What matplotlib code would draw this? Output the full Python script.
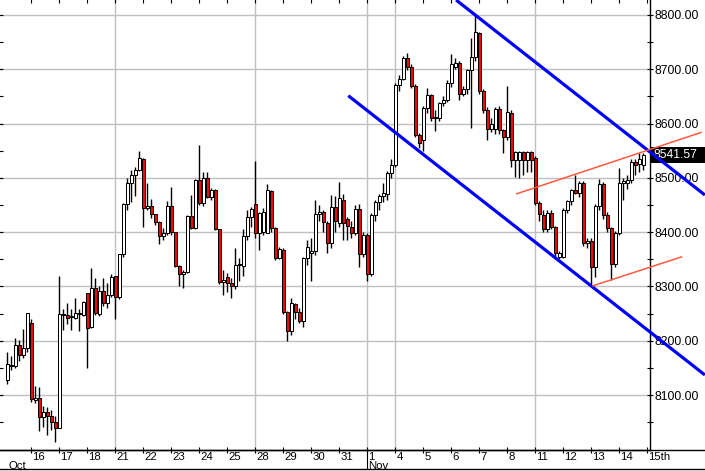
import numpy as np
import matplotlib
matplotlib.use('Agg')
import matplotlib.pyplot as plt
import matplotlib.transforms as mtransforms
from matplotlib.patches import Rectangle
from matplotlib.lines import Line2D

plt.rcParams['font.family'] = ['Liberation Sans', 'DejaVu Sans']

# hourly bars, 7 per trading day
opens = [8127, 8156, 8153, 8192, 8173, 8187, 8233, 8090, 8094, 8059,
         8069, 8062, 8050, 8039, 8250, 8248, 8244, 8242, 8249, 8248,
         8288, 8226, 8298, 8250, 8292, 8270, 8284, 8320, 8281, 8359,
         8451, 8490, 8506, 8515, 8535, 8445, 8448, 8433, 8419, 8393,
         8398, 8448, 8400, 8338, 8323, 8327, 8430, 8408, 8496, 8454,
         8500, 8465, 8478, 8406, 8309, 8317, 8307, 8300, 8339, 8337,
         8392, 8428, 8451, 8398, 8400, 8398, 8475, 8407, 8352, 8367,
         8252, 8217, 8268, 8253, 8236, 8353, 8361, 8365, 8434, 8437,
         8417, 8380, 8446, 8416, 8460, 8424, 8410, 8398, 8442, 8359,
         8395, 8322, 8432, 8456, 8467, 8470, 8509, 8523, 8671, 8683,
         8720, 8705, 8669, 8579, 8570, 8628, 8652, 8610, 8610, 8637,
         8644, 8674, 8705, 8712, 8655, 8663, 8698, 8722, 8766, 8660,
         8625, 8590, 8590, 8626, 8588, 8575, 8619, 8533, 8532, 8547,
         8533, 8547, 8536, 8454, 8432, 8406, 8435, 8409, 8355, 8355,
         8441, 8457, 8478, 8473, 8491, 8380, 8384, 8336, 8449, 8488,
         8432, 8407, 8341, 8398, 8491, 8490, 8496, 8530, 8525, 8523]
highs = [8180, 8171, 8205, 8201, 8222, 8251, 8240, 8116, 8115, 8079,
         8078, 8073, 8061, 8320, 8259, 8270, 8258, 8278, 8258, 8274,
         8288, 8334, 8315, 8300, 8316, 8307, 8322, 8320, 8359, 8453,
         8500, 8515, 8520, 8549, 8537, 8490, 8461, 8434, 8420, 8407,
         8457, 8483, 8400, 8340, 8330, 8432, 8469, 8498, 8560, 8511,
         8511, 8482, 8480, 8406, 8330, 8325, 8316, 8370, 8352, 8405,
         8440, 8446, 8531, 8437, 8445, 8488, 8478, 8410, 8372, 8370,
         8255, 8278, 8270, 8260, 8355, 8386, 8390, 8460, 8450, 8440,
         8420, 8468, 8466, 8492, 8470, 8428, 8420, 8450, 8452, 8400,
         8398, 8435, 8460, 8470, 8490, 8512, 8535, 8675, 8690, 8725,
         8730, 8710, 8672, 8582, 8632, 8665, 8655, 8625, 8640, 8650,
         8680, 8728, 8720, 8716, 8670, 8700, 8757, 8800, 8768, 8663,
         8630, 8610, 8630, 8632, 8590, 8669, 8625, 8550, 8550, 8550,
         8550, 8550, 8540, 8458, 8440, 8440, 8440, 8412, 8365, 8445,
         8460, 8480, 8506, 8495, 8495, 8390, 8390, 8452, 8497, 8492,
         8438, 8410, 8402, 8518, 8500, 8505, 8535, 8535, 8545, 8545]
lows = [8120, 8146, 8150, 8162, 8168, 8180, 8088, 8085, 8033, 8041,
        8026, 8036, 8014, 8039, 8219, 8230, 8220, 8240, 8217, 8245,
        8150, 8224, 8248, 8245, 8264, 8260, 8280, 8240, 8276, 8355,
        8440, 8455, 8466, 8512, 8410, 8440, 8426, 8413, 8378, 8386,
        8395, 8395, 8335, 8300, 8298, 8325, 8405, 8405, 8450, 8448,
        8462, 8460, 8404, 8305, 8284, 8290, 8278, 8295, 8310, 8320,
        8385, 8410, 8390, 8367, 8395, 8398, 8400, 8348, 8350, 8250,
        8200, 8210, 8240, 8232, 8225, 8340, 8310, 8357, 8420, 8400,
        8362, 8370, 8400, 8410, 8385, 8385, 8390, 8395, 8336, 8355,
        8310, 8320, 8420, 8440, 8455, 8460, 8500, 8520, 8660, 8680,
        8698, 8665, 8575, 8555, 8550, 8620, 8605, 8587, 8605, 8632,
        8640, 8668, 8700, 8644, 8650, 8655, 8591, 8715, 8655, 8620,
        8570, 8585, 8580, 8580, 8545, 8570, 8520, 8502, 8500, 8505,
        8510, 8510, 8450, 8420, 8400, 8400, 8405, 8355, 8350, 8352,
        8435, 8450, 8470, 8465, 8375, 8370, 8302, 8318, 8440, 8425,
        8400, 8312, 8335, 8395, 8460, 8480, 8490, 8505, 8510, 8515]
closes = [8157, 8153, 8192, 8173, 8187, 8251, 8093, 8094, 8059, 8069,
          8062, 8050, 8039, 8250, 8248, 8242, 8246, 8251, 8251, 8272,
          8224, 8298, 8251, 8292, 8269, 8284, 8318, 8281, 8359, 8451,
          8490, 8506, 8515, 8537, 8445, 8448, 8433, 8419, 8393, 8398,
          8448, 8400, 8338, 8323, 8327, 8430, 8408, 8496, 8454, 8500,
          8465, 8478, 8406, 8309, 8312, 8307, 8300, 8339, 8342, 8392,
          8428, 8443, 8398, 8435, 8437, 8477, 8407, 8352, 8369, 8252,
          8217, 8270, 8253, 8236, 8353, 8372, 8365, 8434, 8437, 8418,
          8380, 8447, 8421, 8462, 8416, 8411, 8398, 8442, 8359, 8395,
          8322, 8432, 8456, 8467, 8472, 8509, 8523, 8671, 8683, 8720,
          8705, 8669, 8579, 8564, 8628, 8652, 8610, 8612, 8637, 8644,
          8674, 8710, 8712, 8655, 8663, 8698, 8722, 8768, 8660, 8625,
          8590, 8600, 8626, 8588, 8575, 8621, 8533, 8547, 8547, 8533,
          8547, 8533, 8453, 8434, 8406, 8435, 8409, 8361, 8361, 8441,
          8457, 8478, 8473, 8491, 8380, 8384, 8336, 8449, 8488, 8432,
          8407, 8341, 8398, 8491, 8494, 8496, 8530, 8523, 8535, 8541.57]

day_labels = ['16', '17', '18', '21', '22', '23', '24', '25', '28', '29', '30',
              '31', '1', '4', '5', '6', '7', '8', '11', '12', '13', '14', '15th']
month_labels = ['Oct', 'Nov']
month_first_bar = [0, 90]
week_grid_bars = [27, 62, 90, 97, 132]
last_price = 8541.57

# trend lines as (bar, price) end points
channel_top = [(112.2, 8827.6), (174.4, 8468.4)]
channel_bottom = [(85.25, 8651.3), (174.4, 8136.9)]
inner_top = [(127.2, 8470.3), (173.6, 8584.0)]
inner_bottom = [(146.25, 8300.8), (168.75, 8354.8)]

W, H = 705, 471
fig = plt.figure(figsize=(W / 100, H / 100), dpi=100)
ax = fig.add_axes([0, 21 / H, 650 / W, 450 / H])

o = np.array(opens, dtype=float)
h = np.array(highs, dtype=float)
l = np.array(lows, dtype=float)
c = np.array(closes, dtype=float)
x = np.arange(len(c))

# wicks then bodies
ax.vlines(x, l, h, color='black', lw=1.0, zorder=2)
body_bottom = np.minimum(o, c)
body_height = np.maximum(np.abs(c - o), 1.5)
colors = ['#ff0000' if cc < oo else 'white' for oo, cc in zip(o, c)]
ax.bar(x, body_height, bottom=body_bottom, width=0.78, color=colors,
       edgecolor='black', linewidth=0.72, zorder=3)

ax.set_xlim(-1.825, 160.675)
ax.set_ylim(7998.7, 8827.6)

# grid
for v in range(8100, 8900, 100):
    ax.axhline(v, color='#c0c0c0', lw=1.0, zorder=0)
for b in week_grid_bars:
    ax.axvline(b, color='#c0c0c0', lw=1.0, zorder=0)

# axes cosmetics
for s in ['left', 'top']:
    ax.spines[s].set_visible(False)
for s in ['right', 'bottom']:
    ax.spines[s].set_color('black')
    ax.spines[s].set_linewidth(1.0)

day_ticks = [6 + 7 * k for k in range(len(day_labels))]
ax.set_xticks(day_ticks)
ax.set_xticklabels([])
ax.xaxis.set_ticks_position('both')
ax.tick_params(axis='x', direction='inout', length=5, width=0.8)

ax.set_yticks(np.arange(8100, 8900, 100))
ax.set_yticks(np.arange(8050, 8850, 50), minor=True)
ax.yaxis.set_ticks_position('both')
ax.tick_params(axis='y', which='both', direction='inout', length=5, width=0.8,
               labelleft=False, labelright=True, labelsize=8.8, pad=1)
ax.set_yticklabels([f'{v:.2f}' for v in range(8100, 8900, 100)])

trans = mtransforms.blended_transform_factory(ax.transData, ax.transAxes)
for t, lab in zip(day_ticks, day_labels):
    ax.text(t + 0.3, -0.0222, lab, transform=trans, ha='left', va='baseline',
            fontsize=8.2, clip_on=False)
for b, lab in zip(month_first_bar, month_labels):
    ax.text(b + 0.3, -0.0415, lab, transform=trans, ha='left', va='baseline',
            fontsize=8.2, clip_on=False)
ax.add_line(Line2D([90, 90], [0, -0.042], transform=trans, color='black',
                   lw=0.8, clip_on=False))

# bottom frame lines across the whole width
fig.add_artist(Line2D([0, 1], [21 / H, 21 / H], transform=fig.transFigure,
                      color='black', lw=1.0))
fig.add_artist(Line2D([0, 1], [2 / H, 2 / H], transform=fig.transFigure,
                      color='black', lw=1.0))

# last price tag
trans_y = mtransforms.blended_transform_factory(ax.transAxes, ax.transData)
ax.add_patch(Rectangle((1.0, last_price - 15), 56 / 650, 30, transform=trans_y,
                       facecolor='black', edgecolor='none', clip_on=False, zorder=5))
ax.text(1.0 + 3 / 650, last_price, f'{last_price:.2f}', transform=trans_y,
        color='white', fontsize=8.8, ha='left', va='center', zorder=6, clip_on=False)

# trend channel
for seg, col, lw in [(channel_top, '#0000ff', 2.3), (channel_bottom, '#0000ff', 2.3),
                     (inner_top, '#ff5a3c', 1.1), (inner_bottom, '#ff5a3c', 1.1)]:
    xs, ys = zip(*seg)
    ax.plot(xs, ys, color=col, lw=lw, solid_capstyle='butt', clip_on=False, zorder=7)

fig.savefig('out.png', dpi=100)
